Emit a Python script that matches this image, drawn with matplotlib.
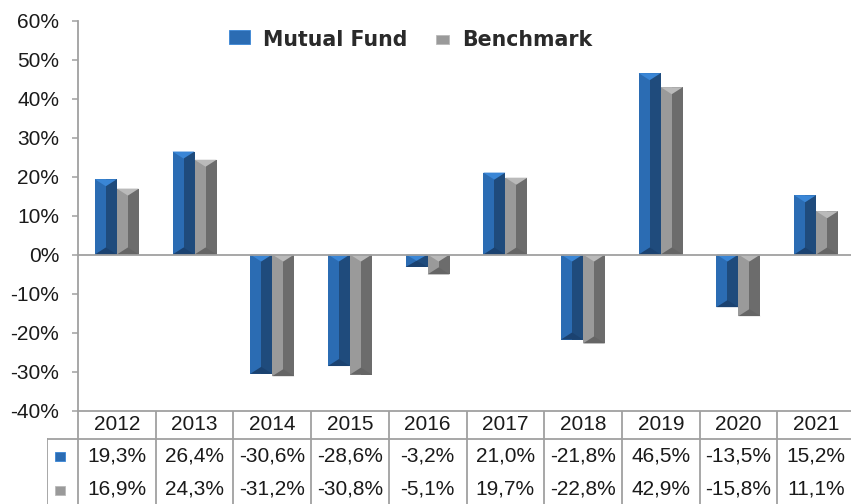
import matplotlib
matplotlib.use("Agg")
import matplotlib.pyplot as plt
from matplotlib.patches import Rectangle

# ---------------- data ----------------
years = ["2012", "2013", "2014", "2015", "2016", "2017", "2018", "2019", "2020", "2021"]
mutual_fund = [19.3, 26.4, -30.6, -28.6, -3.2, 21.0, -21.8, 46.5, -13.5, 15.2]
benchmark = [16.9, 24.3, -31.2, -30.8, -5.1, 19.7, -22.8, 42.9, -15.8, 11.1]
series_names = ["Mutual Fund", "Benchmark"]
y_ticks = [-40, -30, -20, -10, 0, 10, 20, 30, 40, 50, 60]

# ---------------- style ----------------
W, H = 851, 504
FONT = ["Liberation Sans", "DejaVu Sans"]
TXT = "#1a1a1a"
LINE = "#a0a0a0"
MF_COL = {"left": "#2b6cb3", "right": "#1f4b7c", "top": "#3a86d6", "bot": "#1b4270"}
BM_COL = {"left": "#9a9a9a", "right": "#6c6c6c", "top": "#bababa", "bot": "#656565"}


def fx(px):
    return px / W


def fy(py):
    return 1 - py / H


fig = plt.figure(figsize=(W / 100, H / 100), dpi=100)
fig.patch.set_facecolor("white")

# main plot area (pixels): x 78..855, y 20.5..410.5
ax = fig.add_axes([fx(78), fy(410.5), fx(855) - fx(78), fy(20.5) - fy(410.5)])
x = list(range(len(years)))
bw = 22 / 77.6
depth = 1.8  # bevel depth in % units


def draw_series(vals, offset, cols):
    lefts = [xi + offset for xi in x]
    ax.bar(lefts, vals, width=bw / 2, align="edge", color=cols["left"], linewidth=0, zorder=2)
    ax.bar([l + bw / 2 for l in lefts], vals, width=bw / 2, align="edge",
           color=cols["right"], linewidth=0, zorder=2)
    for l, v in zip(lefts, vals):
        top = max(v, 0)
        bot = min(v, 0)
        d = min(depth, (top - bot) / 2)
        ax.fill([l, l + bw, l + bw / 2], [top, top, top - d], color=cols["top"], lw=0, zorder=3)
        ax.fill([l, l + bw, l + bw / 2], [bot, bot, bot + d], color=cols["bot"], lw=0, zorder=3)


draw_series(mutual_fund, -bw, MF_COL)
draw_series(benchmark, 0, BM_COL)

ax.axhline(0, color=LINE, lw=1.3, zorder=4)
ax.set_xlim(-0.5, 9.5)
ax.set_ylim(-40, 60)
ax.set_yticks(y_ticks)
ax.set_yticklabels([f"{t}%" for t in y_ticks], fontfamily=FONT, fontsize=15, color=TXT)
ax.set_xticks([])
ax.tick_params(axis="y", direction="out", length=4.5, width=1.1, color=LINE, pad=9)
for s in ["top", "right"]:
    ax.spines[s].set_visible(False)
for s in ["left", "bottom"]:
    ax.spines[s].set_color(LINE)
    ax.spines[s].set_linewidth(1.3)

# ---------------- data table ----------------
key_w = (78 - 47) / 77.6
tab = fig.add_axes([fx(47), 0, fx(855) - fx(47), fy(410.5)])
tab.set_xlim(-0.5 - key_w, 9.5)
tab.set_ylim(94, 0)
tab.axis("off")
row_y = [0, 29, 62, 96]
tab.plot([-0.5 - key_w, 9.5], [row_y[1], row_y[1]], color=LINE, lw=1.3)
for i in range(len(years) + 1):
    tab.plot([-0.5 + i, -0.5 + i], [0, 96], color=LINE, lw=1.3)
tab.plot([-0.5 - key_w, -0.5 - key_w], [row_y[1], 96], color=LINE, lw=1.3)

for i, yr in enumerate(years):
    tab.text(i, (row_y[0] + row_y[1]) / 2, yr, ha="center", va="center",
             fontfamily=FONT, fontsize=15, color=TXT)


def fmt(v):
    return f"{v:.1f}%".replace(".", ",")


for r, (vals, cols) in enumerate([(mutual_fund, MF_COL), (benchmark, BM_COL)]):
    yc = (row_y[r + 1] + row_y[r + 2]) / 2
    for i, v in enumerate(vals):
        tab.text(i, yc, fmt(v), ha="center", va="center",
                 fontfamily=FONT, fontsize=15, color=TXT)
    # key square
    fig.add_artist(Rectangle((fx(55), fy(410.5 + yc + 5)), fx(10), 9 / H,
                             transform=fig.transFigure, facecolor=cols["left"],
                             edgecolor=cols["top"], lw=0.6))

# ---------------- legend ----------------
fig.add_artist(Rectangle((fx(229), fy(44)), fx(21), 14 / H, transform=fig.transFigure,
                         facecolor=MF_COL["left"], edgecolor=MF_COL["top"], lw=0.6))
fig.text(fx(263), fy(46), series_names[0], ha="left", va="baseline",
         fontfamily="DejaVu Sans", fontweight="bold", fontsize=14.8, color="#2a2a2a")
fig.add_artist(Rectangle((fx(436), fy(44)), fx(13), 9 / H, transform=fig.transFigure,
                         facecolor=BM_COL["left"], edgecolor=BM_COL["top"], lw=0.6))
fig.text(fx(462), fy(46), series_names[1], ha="left", va="baseline",
         fontfamily="DejaVu Sans", fontweight="bold", fontsize=14.8, color="#2a2a2a")

fig.savefig("out.png", dpi=100, facecolor="white")
